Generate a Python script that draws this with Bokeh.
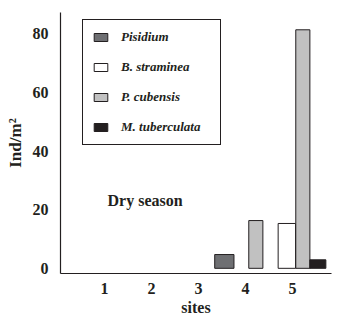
from bokeh.plotting import figure
from bokeh.models import (ColumnDataSource, FixedTicker, Legend, LegendItem,
                          Range1d, Label)
from bokeh.transform import dodge
from bokeh.embed import file_html
from bokeh.resources import INLINE

# ---- data ----
sites = [1, 2, 3, 4, 5]
site_labels = ["1", "2", "3", "4", "5"]
series_names = ["Pisidium", "B. straminea", "P. cubensis", "M. tuberculata"]
pisidium = [0, 0, 0, 4.7, 0]
b_straminea = [0, 0, 0, 0, 15.3]
p_cubensis = [0, 0, 0, 16.3, 81.4]
m_tuberculata = [0, 0, 0, 0, 2.9]
y_ticks = [0, 20, 40, 60, 80]
annotation = "Dry season"

# ---- styles ----
FONT = "Liberation Serif"
TXT = "#231f20"
styles = {
    "Pisidium": dict(color="#6e6f72", offset=-0.45, width=0.41),
    "B. straminea": dict(color="#ffffff", offset=-0.12, width=0.37),
    "P. cubensis": dict(color="#c1c1c1", offset=0.22, width=0.30),
    "M. tuberculata": dict(color="#231f20", offset=0.54, width=0.34),
}
values = {
    "Pisidium": pisidium,
    "B. straminea": b_straminea,
    "P. cubensis": p_cubensis,
    "M. tuberculata": m_tuberculata,
}

p = figure(width=340, height=318,
           min_border_left=60, min_border_top=12, min_border_right=9,
           min_border_bottom=45,
           x_range=Range1d(0.064, 5.83), y_range=Range1d(-1.77, 87.3),
           output_backend="svg", toolbar_location=None)
p.outline_line_color = None
p.xgrid.grid_line_color = None
p.ygrid.grid_line_color = None
p.background_fill_color = "white"
p.border_fill_color = "white"

items = []
for name in series_names:
    st = styles[name]
    xs = [s for s, v in zip(sites, values[name]) if v > 0]
    vs = [v for v in values[name] if v > 0]
    src = ColumnDataSource(dict(site=xs, val=vs))
    r = p.vbar(x=dodge("site", st["offset"]), top="val", bottom=0,
               width=st["width"], source=src,
               fill_color=st["color"], line_color="#231f20", line_width=1)
    items.append(LegendItem(label=name, renderers=[r]))

legend = Legend(items=items, location=(22, 128))
legend.margin = 0
legend.border_line_color = "#231f20"
legend.border_line_width = 1
legend.border_line_alpha = 1
legend.padding = 9
legend.spacing = 14
legend.glyph_width = 17
legend.glyph_height = 10
legend.label_height = 12
legend.label_width = 90
legend.label_standoff = 12
legend.label_text_font = FONT
legend.label_text_font_style = "bold italic"
legend.label_text_font_size = "13px"
legend.label_text_color = TXT
legend.background_fill_alpha = 1
p.add_layout(legend, "center")

p.add_layout(Label(x=1.064, y=23.3, text=annotation, text_font=FONT,
                   text_font_style="bold", text_font_size="16px",
                   text_color=TXT, text_baseline="middle"))

for ax in (p.xaxis, p.yaxis):
    ax.axis_line_color = "#231f20"
    ax.axis_line_width = 1.2
    ax.major_tick_line_color = None
    ax.minor_tick_line_color = None
    ax.major_tick_out = 0
    ax.major_tick_in = 0
    ax.minor_tick_out = 0
    ax.minor_tick_in = 0
    ax.major_label_text_font = FONT
    ax.major_label_text_font_style = "bold"
    ax.major_label_text_font_size = "16px"
    ax.major_label_text_color = TXT
    ax.axis_label_text_font = FONT
    ax.axis_label_text_font_style = "bold"
    ax.axis_label_text_color = TXT

p.xaxis.ticker = FixedTicker(ticks=sites)
p.xaxis.major_label_overrides = {s: l for s, l in zip(sites, site_labels)}
p.xaxis.major_label_standoff = 9
p.xaxis.axis_label = "sites"
p.xaxis.axis_label_text_font_size = "16px"
p.xaxis.axis_label_standoff = 2

p.yaxis.ticker = FixedTicker(ticks=y_ticks)
p.yaxis.major_label_standoff = 12
p.yaxis.axis_label = "Ind/m²"
p.yaxis.axis_label_text_font_size = "17px"
p.yaxis.axis_label_standoff = 5

open("out.html", "w").write(file_html(p, INLINE))
